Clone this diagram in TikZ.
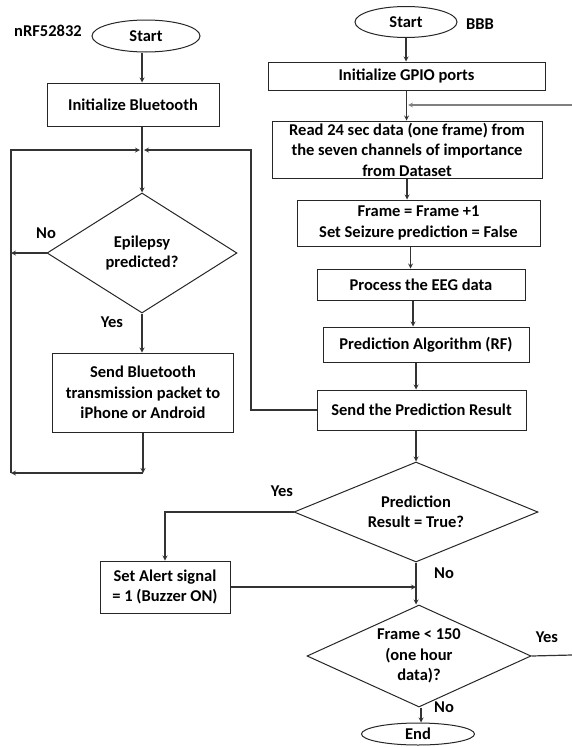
\documentclass[tikz,border=0pt]{standalone}
\usepackage{fontspec}
\setmainfont{Carlito}
\usetikzlibrary{shapes.geometric, arrows}

\begin{document}
\begin{tikzpicture}[x=1pt, y=-1pt, font=\bfseries\fontsize{16.5}{20.5}\selectfont]
	\tikzstyle{startstop} = [ellipse, draw=black!85, line width=1pt, inner sep=0pt]
	\tikzstyle{process} = [rectangle, draw=black!85, line width=1pt, text centered, align=center, inner sep=0pt]
	\tikzstyle{decision} = [diamond, draw=black!85, line width=1pt, align=center, inner sep=0pt]
	\tikzstyle{tagtext} = [inner sep=0pt]
	\tikzstyle{arrow} = [line width=1.2pt, draw=black!80, ->, >=stealth]
	\tikzstyle{wire} = [line width=1.2pt, draw=black!80]
	\tikzstyle{loopwire} = [line width=1.2pt, draw=black!50]
	\useasboundingbox (0,0) rectangle (572,747);
	% nRF52832 side
	\node (nrfTag) [tagtext] at (48,31) {nRF52832};
	\node (startLeft) [startstop, minimum width=108pt, minimum height=32pt] at (146,36) {Start};
	\node (initBluetooth) [process, minimum width=172pt, minimum height=43pt] at (133,104.5) {Initialize Bluetooth};
	\node (epilepsy) [decision, aspect=1.6, minimum width=190pt, minimum height=120pt] at (142,253) {Epilepsy\\predicted?};
	\node (sendBluetooth) [process, minimum width=181pt, minimum height=79pt] at (143,392.5) {Send Bluetooth\\transmission packet to\\iPhone or Android};
	\node (noLeft) [tagtext] at (46,233) {No};
	\node (yesLeft) [tagtext] at (112,322) {Yes};
	\coordinate (joinLeft) at (142,150);
	\coordinate (railTopLeft) at (11,150);
	\coordinate (railBotLeft) at (11,473);
	\coordinate (railTopRight) at (251,150);
	% BBB side
	\node (bbbTag) [tagtext] at (480,24) {BBB};
	\node (startRight) [startstop, minimum width=102pt, minimum height=31pt] at (406,22) {Start};
	\node (initGpio) [process, minimum width=277pt, minimum height=28pt] at (406.5,76) {Initialize GPIO ports};
	\node (readData) [process, minimum width=270pt, minimum height=57pt] at (407,149.5) {Read 24 sec data (one frame) from\\the seven channels of importance\\from Dataset};
	\node (frameBox) [process, minimum width=243pt, minimum height=46pt] at (418.5,223) {Frame = Frame +1\\Set Seizure prediction = False};
	\node (processEeg) [process, minimum width=208pt, minimum height=31pt] at (421,284.5) {Process the EEG data};
	\node (predAlgo) [process, minimum width=206pt, minimum height=35pt] at (426,344.5) {Prediction Algorithm (RF)};
	\node (sendResult) [process, minimum width=209pt, minimum height=40pt] at (421.5,410) {Send the Prediction Result};
	\node (predResult) [decision, aspect=2.44, minimum width=244pt, minimum height=100pt] at (416,512) {Prediction\\Result = True?};
	\node (setAlert) [process, minimum width=130pt, minimum height=52pt] at (165,587) {Set Alert signal\\= 1 (Buzzer ON)};
	\node (frameCheck) [decision, aspect=2.2, minimum width=224pt, minimum height=102pt] at (419,656) {Frame < 150\\(one hour\\data)?};
	\node (endNode) [startstop, minimum width=113pt, minimum height=22pt] at (418,734) {End};
	\node (yesPred) [tagtext] at (282,491) {Yes};
	\node (noPred) [tagtext] at (444,573) {No};
	\node (yesFrame) [tagtext] at (547,637) {Yes};
	\node (noFrame) [tagtext] at (444,707) {No};
	\coordinate (gpioJoin) at (408,105);
	\coordinate (edgeTop) at (572,105);
	\coordinate (edgeBottom) at (572,655);
	% left connectors
	\draw [arrow] (joinLeft |- startLeft.south) -- (joinLeft |- initBluetooth.north);
	\draw [arrow] (joinLeft |- initBluetooth.south) -- (epilepsy.north);
	\draw [arrow] (epilepsy.south) -- (epilepsy.south |- sendBluetooth.north);
	\draw [arrow] (epilepsy.west) -- (epilepsy.west -| railTopLeft);
	\draw [arrow] (sendBluetooth.south) -- (sendBluetooth.south |- railBotLeft);
	\draw [arrow] (sendBluetooth.south |- railBotLeft) -- (railBotLeft);
	\draw [arrow] (railBotLeft) -- (railTopLeft) -- ([xshift=-2pt]joinLeft);
	\draw [arrow] (sendResult.west) -- (sendResult.west -| railTopRight) -- (railTopRight) -- ([xshift=2pt]joinLeft);
	% right connectors
	\draw [arrow] (startRight.south) -- (startRight.south |- initGpio.north);
	\draw [arrow] (initGpio.south) -- (initGpio.south |- readData.north);
	\draw [arrow, loopwire] (edgeTop) -- (gpioJoin);
	\draw [arrow] (readData.south) -- (readData.south |- frameBox.north);
	\draw [arrow] ([xshift=-8pt]frameBox.south) -- ([xshift=-8pt]frameBox.south |- processEeg.north);
	\draw [arrow] ([xshift=-8pt]processEeg.south) -- ([xshift=-8pt]processEeg.south |- predAlgo.north);
	\draw [arrow] ([xshift=-10pt]predAlgo.south) -- ([xshift=-10pt]predAlgo.south |- sendResult.north);
	\draw [arrow] (predResult.north |- sendResult.south) -- (predResult.north);
	\draw [arrow] (predResult.west) -| (setAlert.north);
	\draw [arrow] (predResult.south) -- (predResult.south |- frameCheck.north);
	\draw [arrow] (setAlert.east) -- (setAlert.east -| predResult.south);
	\draw [wire] (frameCheck.east) -- (edgeBottom);
	\draw [arrow] ([xshift=2pt]frameCheck.south) -- ([xshift=2pt]frameCheck.south |- endNode.north);
\end{tikzpicture}
\end{document}
